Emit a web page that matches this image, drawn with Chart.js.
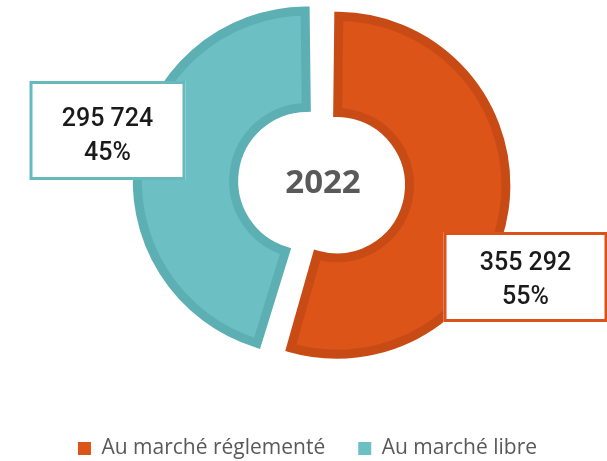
<!DOCTYPE html>
<html>
<head>
<meta charset="utf-8">
<script src="https://cdn.jsdelivr.net/npm/chart.js@4.4.1/dist/chart.umd.min.js"></script>
<style>
    html, body { margin: 0; padding: 0; background: #fff; }
    #wrap { width: 607px; height: 461px; position: relative; }
</style>
</head>
<body>
<div id="wrap"><canvas id="chart-marche"></canvas></div>
<script>
// donnees
const categories = ['Au marché réglementé', 'Au marché libre'];
const valeurs = [355292, 295724];
const annee = '2022';

// couleurs
const couleurs = ['#dc5418', '#6cbfc2'];
const bordures = ['#c84b15', '#5cafb3'];
const cadres = ['#d9521a', '#66b9bc'];

// position des etiquettes par rapport au centre (dx, dy, largeur, hauteur, decalage texte)
const etiquettes = [
    {dx: 200.5, dy: 93.5, w: 164, h: 90, ty: 3.5},
    {dx: -217.5, dy: -53, w: 156, h: 99, ty: 6.5}
];

function formatar(valor) {
    return String(valor).replace(/\B(?=(\d{3})+(?!\d))/g, ' ');
}

const total = valeurs.reduce((a, b) => a + b, 0);

//Plugin etiquettes + texte central
const pluginEtiquettes = {
    id: 'etiquettes',
    afterDatasetsDraw(chart) {
        const ctx = chart.ctx;
        const meta = chart.getDatasetMeta(0);
        const cx = meta.data[0].x;
        const cy = meta.data[0].y;

        ctx.save();
        ctx.fillStyle = '#595959';
        ctx.font = 'bold 33px "Open Sans"';
        ctx.textAlign = 'center';
        ctx.textBaseline = 'middle';
        ctx.fillText(annee, cx - 2, cy);

        meta.data.forEach(function (arc, i) {
            let e = etiquettes[i];
            let x = cx + e.dx - e.w / 2;
            let y = cy + e.dy - e.h / 2;
            ctx.fillStyle = '#fff';
            ctx.fillRect(x, y, e.w, e.h);
            ctx.strokeStyle = cadres[i];
            ctx.lineWidth = 3;
            ctx.strokeRect(x + 1.5, y + 1.5, e.w - 3, e.h - 3);

            let pct = Math.round(valeurs[i] / total * 100) + '%';
            let ty = cy + e.dy + e.ty;
            ctx.fillStyle = '#1a1a1a';
            ctx.font = '500 25px Roboto';
            ctx.fillText(formatar(valeurs[i]), cx + e.dx, ty - 17);
            ctx.fillText(pct, cx + e.dx, ty + 17);
        });
        ctx.restore();
    }
};

var ctx = document.getElementById('chart-marche').getContext('2d');
var data = {
    labels: categories,
    datasets: [{
            data: valeurs,
            backgroundColor: couleurs,
            borderColor: bordures,
            borderWidth: 9,
            borderJoinStyle: 'miter',
            offset: [48, 72],
            hoverOffset: 0
        }]
};
const config = {
    type: 'doughnut',
    data,
    plugins: [pluginEtiquettes],
    options: {
        responsive: true,
        maintainAspectRatio: false,
        animation: false,
        radius: 157,
        cutout: '38.6%',
        layout: {
            padding: {left: 8, right: 0, top: 0, bottom: -8}
        },
        plugins: {
            title: {
                display: true,
                position: 'left',
                fullSize: false,
                text: '',
                font: {size: 10},
                padding: {top: 11, bottom: 12}
            },
            tooltip: {enabled: false},
            legend: {
                position: 'bottom',
                title: {
                    display: true,
                    text: '',
                    font: {size: 10},
                    padding: {top: 13, bottom: 13}
                },
                labels: {
                    boxWidth: 13,
                    boxHeight: 13,
                    padding: 33,
                    color: '#595959',
                    font: {family: '"Open Sans"', size: 21},
                    generateLabels: function (chart) {
                        let items = Chart.overrides.doughnut.plugins.legend.labels.generateLabels(chart);
                        items.forEach(function (it) {
                            it.lineWidth = 0;
                        });
                        return items;
                    }
                }
            }
        }
    }
};
var chartMarche = new Chart(ctx, config);
</script>
</body>
</html>
